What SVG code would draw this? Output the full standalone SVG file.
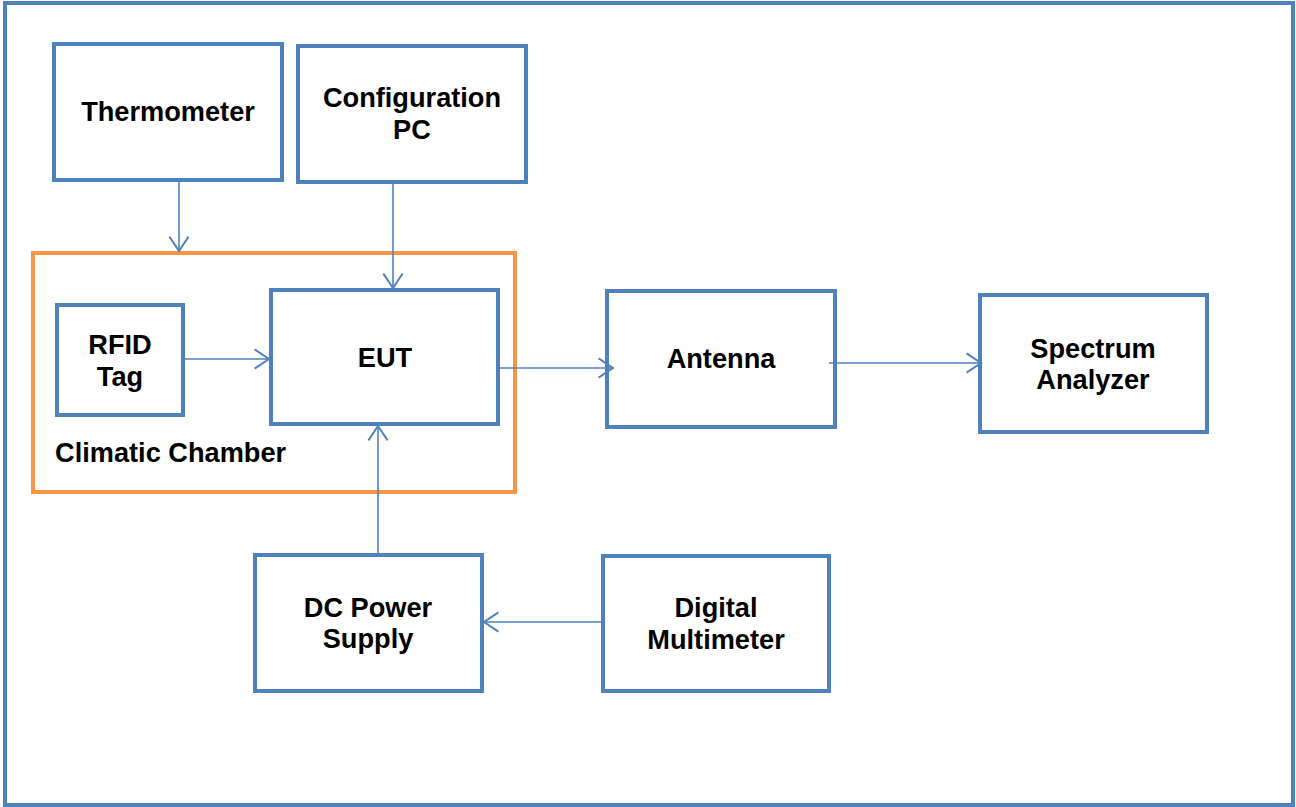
<svg xmlns="http://www.w3.org/2000/svg" width="1296" height="807" viewBox="0 0 1296 807">
<style>
.box{fill:#fff;stroke:#4F81BD;stroke-width:4}
.lbl{font-family:"Liberation Sans",Arial,sans-serif;font-weight:bold;font-size:27.2px;fill:#000;text-anchor:middle}
.con{stroke:#4F81BD;stroke-width:1.6;fill:none;marker-end:url(#arr)}
</style>
<defs>
<marker id="arr" markerUnits="userSpaceOnUse" markerWidth="24" markerHeight="24" viewBox="-14 -10 16 20" refX="0" refY="0" orient="auto">
<path d="M-12,-8 L0,0 L-12,8" fill="none" stroke="#4F81BD" stroke-width="1.6"/>
</marker>
</defs>
<rect x="0" y="0" width="1296" height="807" fill="#fff"/>
<rect id="frame" x="5" y="3" width="1288" height="802" fill="none" stroke="#4F81BD" stroke-width="4"/>
<g id="climatic-chamber">
<rect x="33" y="253" width="482" height="239" fill="none" stroke="#F79646" stroke-width="4"/>
<text class="lbl" x="55" y="462" style="text-anchor:start">Climatic Chamber</text>
</g>
<g id="thermometer"><rect class="box" x="54" y="44" width="228" height="136"/><text class="lbl" x="168" y="121">Thermometer</text></g>
<g id="config-pc"><rect class="box" x="298" y="46" width="228" height="136"/><text class="lbl" x="412" y="107">Configuration</text><text class="lbl" x="412" y="139">PC</text></g>
<g id="rfid-tag"><rect class="box" x="57" y="305" width="126" height="110"/><text class="lbl" x="120" y="354">RFID</text><text class="lbl" x="120" y="386">Tag</text></g>
<g id="eut"><rect class="box" x="271" y="290" width="227" height="134"/><text class="lbl" x="385" y="367">EUT</text></g>
<g id="antenna"><rect class="box" x="607" y="291" width="228" height="136"/><text class="lbl" x="721" y="368">Antenna</text></g>
<g id="spectrum-analyzer"><rect class="box" x="980" y="295" width="227" height="137"/><text class="lbl" x="1093" y="358">Spectrum</text><text class="lbl" x="1093" y="389">Analyzer</text></g>
<g id="dc-power-supply"><rect class="box" x="255" y="555" width="227" height="136"/><text class="lbl" x="368" y="617">DC Power</text><text class="lbl" x="368" y="648">Supply</text></g>
<g id="digital-multimeter"><rect class="box" x="603" y="556" width="226" height="135"/><text class="lbl" x="716" y="617">Digital</text><text class="lbl" x="716" y="649">Multimeter</text></g>
<g id="connectors">
<line class="con" x1="179" y1="180" x2="179" y2="251"/>
<line class="con" x1="393" y1="182" x2="393" y2="288"/>
<line class="con" x1="181" y1="359" x2="269" y2="359"/>
<line class="con" x1="378" y1="555" x2="378" y2="426"/>
<line class="con" x1="498" y1="368" x2="613" y2="368"/>
<line class="con" x1="829" y1="363" x2="981" y2="363"/>
<line class="con" x1="603" y1="622" x2="484" y2="622"/>
</g>
</svg>
